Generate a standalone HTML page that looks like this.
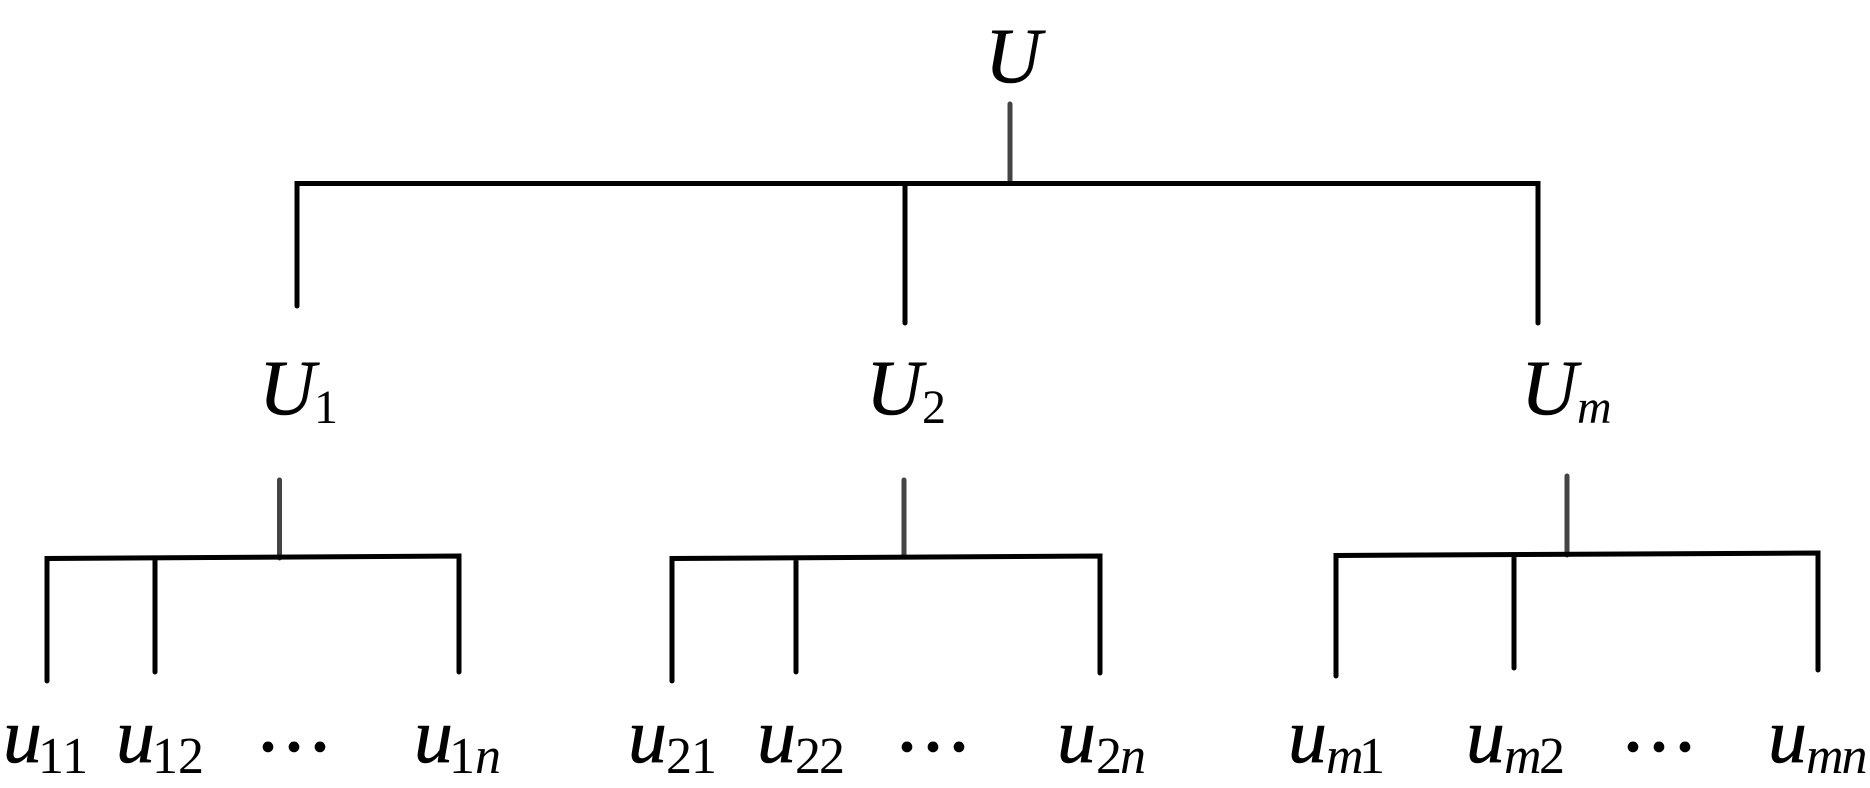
<!DOCTYPE html>
<html><head><meta charset="utf-8"><style>
html,body{margin:0;padding:0;background:#fff;width:1870px;height:788px;overflow:hidden}
svg{display:block}
text{font-family:"Liberation Serif",serif;fill:#000}
.b{font-size:78px;font-style:italic;stroke:#000;stroke-width:.6}
.s{font-size:52px}
.si{font-size:52px;font-style:italic}
.t{font-size:48px}
.ti{font-size:48px;font-style:italic}
.d{font-size:78px;stroke:#000;stroke-width:1.5}
.k{stroke:#000;stroke-width:5;stroke-linecap:round;fill:none}
.g{stroke:#444;stroke-width:5;stroke-linecap:round;fill:none}
</style></head><body>
<svg width="1870" height="788" viewBox="0 0 1870 788" xmlns="http://www.w3.org/2000/svg">
<rect width="1870" height="788" fill="#fff"/>
<path class="g" d="M1010 104V182M279.500 480V558M904 480V557M1567 476V555"/>
<path class="k" d="M297 306V183.500H1538V323M905 183.500V323"/>
<path class="k" d="M47 681V558.500L459 556V672M155 558V672"/>
<path class="k" d="M672 681V558.500L1100 556V673M796 558V672"/>
<path class="k" d="M1336 676V555.500L1818 553V670M1514 555V668"/>
<text class="b" x="985" y="82">U</text>
<text class="b" x="259" y="414">U</text><text class="t" x="314" y="423">1</text>
<text class="b" x="866" y="414">U</text><text class="t" x="922" y="423">2</text>
<text class="b" x="1521" y="414">U</text><text class="ti" x="1577" y="423">m</text>
<text class="b" x="3" y="762">u</text><text class="s" x="38" y="773">11</text>
<text class="b" x="116" y="762">u</text><text class="s" x="152" y="773">12</text>
<text class="d" x="255" y="773">···</text>
<text class="b" x="414" y="762">u</text><text class="s" x="449" y="773">1</text><text class="si" x="475" y="773">n</text>
<text class="b" x="628" y="762">u</text><text class="s" x="666" y="773" letter-spacing="-1">21</text>
<text class="b" x="757" y="762">u</text><text class="s" x="795" y="773" letter-spacing="-2">22</text>
<text class="d" x="894" y="773">···</text>
<text class="b" x="1057" y="762">u</text><text class="s" x="1096" y="773">2</text><text class="si" x="1120" y="773">n</text>
<text class="b" x="1288" y="762">u</text><text class="si" x="1326" y="773">m</text><text class="s" x="1359" y="773">1</text>
<text class="b" x="1466" y="762">u</text><text class="si" x="1504" y="773">m</text><text class="s" x="1539" y="773">2</text>
<text class="d" x="1620" y="773">···</text>
<text class="b" x="1768" y="762">u</text><text class="si" x="1806" y="773" letter-spacing="-2">mn</text>
</svg>
</body></html>
